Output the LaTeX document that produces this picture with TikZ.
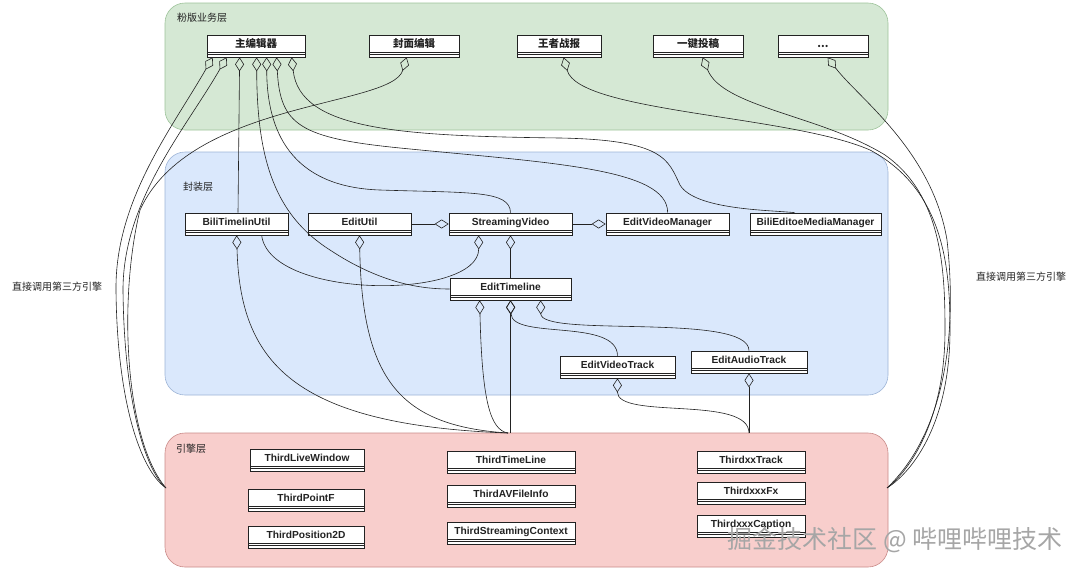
\documentclass[tikz,border=0pt]{standalone}
\usepackage{fontspec}
\setmainfont{Liberation Sans}
\newfontfamily\cjk{Noto Sans CJK SC}
\usetikzlibrary{arrows.meta,calc}
\definecolor{gfill}{HTML}{D5E8D4}\definecolor{gdraw}{HTML}{9DC39A}
\definecolor{bfill}{HTML}{DAE8FC}\definecolor{bdraw}{HTML}{9DB4D6}
\definecolor{rfill}{HTML}{F8CECC}\definecolor{rdraw}{HTML}{C98A88}
\definecolor{ink}{HTML}{222222}
\tikzset{
  layer/.style={rounded corners=20pt, line width=0.6pt},
  cls/.style={draw=ink, fill=white, line width=0.7pt, minimum height=22pt,
    inner sep=0pt, text height=8pt, text depth=6pt, font=\bfseries\fontsize{10.2}{12}\selectfont, text=ink,
    path picture={
      \draw[ink, line width=0.6pt] ($(path picture bounding box.south west)+(0,-5)$) -- ($(path picture bounding box.south east)+(0,-5)$);
      \draw[ink, line width=0.6pt] ($(path picture bounding box.south west)+(0,-2.5)$) -- ($(path picture bounding box.south east)+(0,-2.5)$);
    }},
  cjkcls/.style={cls, font=\cjk\bfseries\fontsize{10.5}{12}\selectfont},
  layerlabel/.style={font=\cjk\fontsize{10}{12}\selectfont, text=ink, anchor=west, inner sep=0pt},
  conn/.style={draw=ink, line width=0.6pt},
  agg/.style={conn, {Diamond[open, length=14pt, width=9pt, line width=0.6pt]}-},
}
\begin{document}
\begin{tikzpicture}[x=1pt, y=-1pt]
\useasboundingbox (0,0) rectangle (1080,571);
% layers
\draw[layer, fill=gfill, draw=gdraw] (165,3) rectangle (888,130);
\draw[layer, fill=bfill, draw=bdraw] (165,152) rectangle (888,395);
\draw[layer, fill=rfill, draw=rdraw] (165,433) rectangle (888,567);
\node[layerlabel] (lg) at (177,18) {粉版业务层};
\node[layerlabel] (lb) at (183,187) {封装层};
\node[layerlabel] (lr) at (176,449) {引擎层};
\node[layerlabel] (sl) at (12,287) {直接调用第三方引擎};
\node[layerlabel] (sr) at (976,277) {直接调用第三方引擎};

% top boxes
\node[cjkcls, minimum width=98pt] (zb) at (256,46) {主编辑器};
\node[cjkcls, minimum width=90pt] (fm) at (414,46) {封面编辑};
\node[cjkcls, minimum width=84pt] (wz) at (559,46) {王者战报};
\node[cjkcls, minimum width=90pt] (yj) at (698,46) {一键投稿};
\node[cjkcls, minimum width=90pt] (dd) at (823,46) {...};

% middle boxes
\node[cls, minimum width=103pt] (btu) at (236.5,224) {BiliTimelinUtil};
\node[cls, minimum width=103pt] (eu) at (359.5,224) {EditUtil};
\node[cls, minimum width=123pt] (sv) at (510.5,224) {StreamingVideo};
\node[cls, minimum width=123pt] (evm) at (667.5,224) {EditVideoManager};
\node[cls, minimum width=131pt] (bem) at (815.5,224) {BiliEditoeMediaManager};
\node[cls, minimum width=121pt] (et) at (510.5,289) {EditTimeline};
\node[cls, minimum width=115pt] (evt) at (617.5,367) {EditVideoTrack};
\node[cls, minimum width=116pt] (eat) at (749,362) {EditAudioTrack};

% bottom boxes
\node[cls, minimum width=114pt] (tlw) at (307,460) {ThirdLiveWindow};
\node[cls, minimum width=116pt] (tpf) at (306,500) {ThirdPointF};
\node[cls, minimum width=116pt] (tp2) at (306,537) {ThirdPosition2D};
\node[cls, minimum width=128pt] (ttl) at (511,462) {ThirdTimeLine};
\node[cls, minimum width=128pt] (tav) at (511,496) {ThirdAVFileInfo};
\node[cls, minimum width=128pt] (tsc) at (511,533) {ThirdStreamingContext};
\node[cls, minimum width=108pt] (txt) at (751,462) {ThirdxxTrack};
\node[cls, minimum width=108pt] (txf) at (751,493) {ThirdxxxFx};
\node[cls, minimum width=108pt] (txc) at (751,526) {ThirdxxxCaption};

% convergence points on engine layer
\coordinate (c1) at (508,433);
\coordinate (c2) at (749,433);
\coordinate (lend) at (166,488);
\coordinate (rend) at (887,488);

% from 主编辑器
\draw[agg] ($(zb.south west)+(6,0)$) .. controls +(-40,70) and (115,200) .. (116,290) .. controls (117,400) and (140,470) .. (lend);
\draw[agg] ($(zb.south west)+(20,0)$) .. controls +(-40,70) and (123,200) .. (123,290) .. controls (124,400) and (145,470) .. (lend);
\draw[agg] ($(zb.south west)+(33,0)$) -- (btu.north -| 238,0);
\draw[agg] ($(zb.south west)+(50,0)$) .. controls (257,160) and (275,215) .. (330,250) .. controls (380,283) and (420,289) .. (et.west);
\draw[agg] ($(zb.south west)+(60,0)$) .. controls (267,130) and (290,187) .. (380,190) .. controls (470,193) and (510,190) .. (sv.north);
\draw[agg] ($(zb.south west)+(70,0)$) .. controls (280,125) and (300,138) .. (400,148) .. controls (550,163) and (668,168) .. ($(evm.north west)+(62,0)$);
\draw[agg] ($(zb.south west)+(85,0)$) .. controls (300,130) and (400,136) .. (560,138) .. controls (665,140) and (668,160) .. (680,185) .. controls (695,210) and (770,210) .. ($(bem.north west)+(45,0)$);
% from 封面编辑
\draw[agg] ($(fm.south west)+(38,0)$) .. controls +(-15,50) and (190,100) .. (140,210) .. controls (118,300) and (125,440) .. (lend);
% from right boxes
\draw[agg] ($(wz.south west)+(47,0)$) .. controls +(15,55) and (790,115) .. (870,150) .. controls (945,190) and (950,270) .. (950,330) .. controls (950,420) and (915,470) .. (rend);
\draw[agg] ($(yj.south west)+(50,0)$) .. controls +(20,50) and (820,115) .. (885,155) .. controls (942,195) and (945,270) .. (945,330) .. controls (945,420) and (910,470) .. (rend);
\draw[agg] ($(dd.south west)+(50,0)$) .. controls +(30,40) and (932,150) .. (947,240) .. controls (957,330) and (947,430) .. (rend);

% middle layer
\draw[agg] (sv.west) -- (eu.east);
\draw[agg] (evm.west) -- (sv.east);
\draw[agg] ($(sv.south west)+(30,0)$) .. controls (479,300) and (270,300) .. ($(btu.south west)+(77,0)$);
\draw[agg] (sv.south) -- (et.north);
\draw[agg] ($(btu.south west)+(52,0)$) .. controls (240,360) and (290,425) .. (c1);
\draw[agg] (eu.south) .. controls (362,380) and (400,426) .. (c1);
\draw[agg] ($(et.south west)+(30,0)$) .. controls (482,400) and (490,430) .. (c1);
\draw[agg] (et.south) -- (et.south |- c1);
\draw[agg] (et.south) .. controls (512,340) and (617,318) .. (evt.north);
\draw[agg] ($(et.south west)+(91,0)$) .. controls (541,338) and (749,312) .. (eat.north);
\draw[agg] (evt.south) .. controls (617,420) and (749,395) .. (c2);
\draw[agg] (eat.south) -- (c2);

% watermark
\node[font=\cjk\fontsize{25}{28}\selectfont, text=black!35, anchor=center, inner sep=0pt] (wm) at (895,540) {掘金技术社区 @ 哔哩哔哩技术};
\end{tikzpicture}
\end{document}
